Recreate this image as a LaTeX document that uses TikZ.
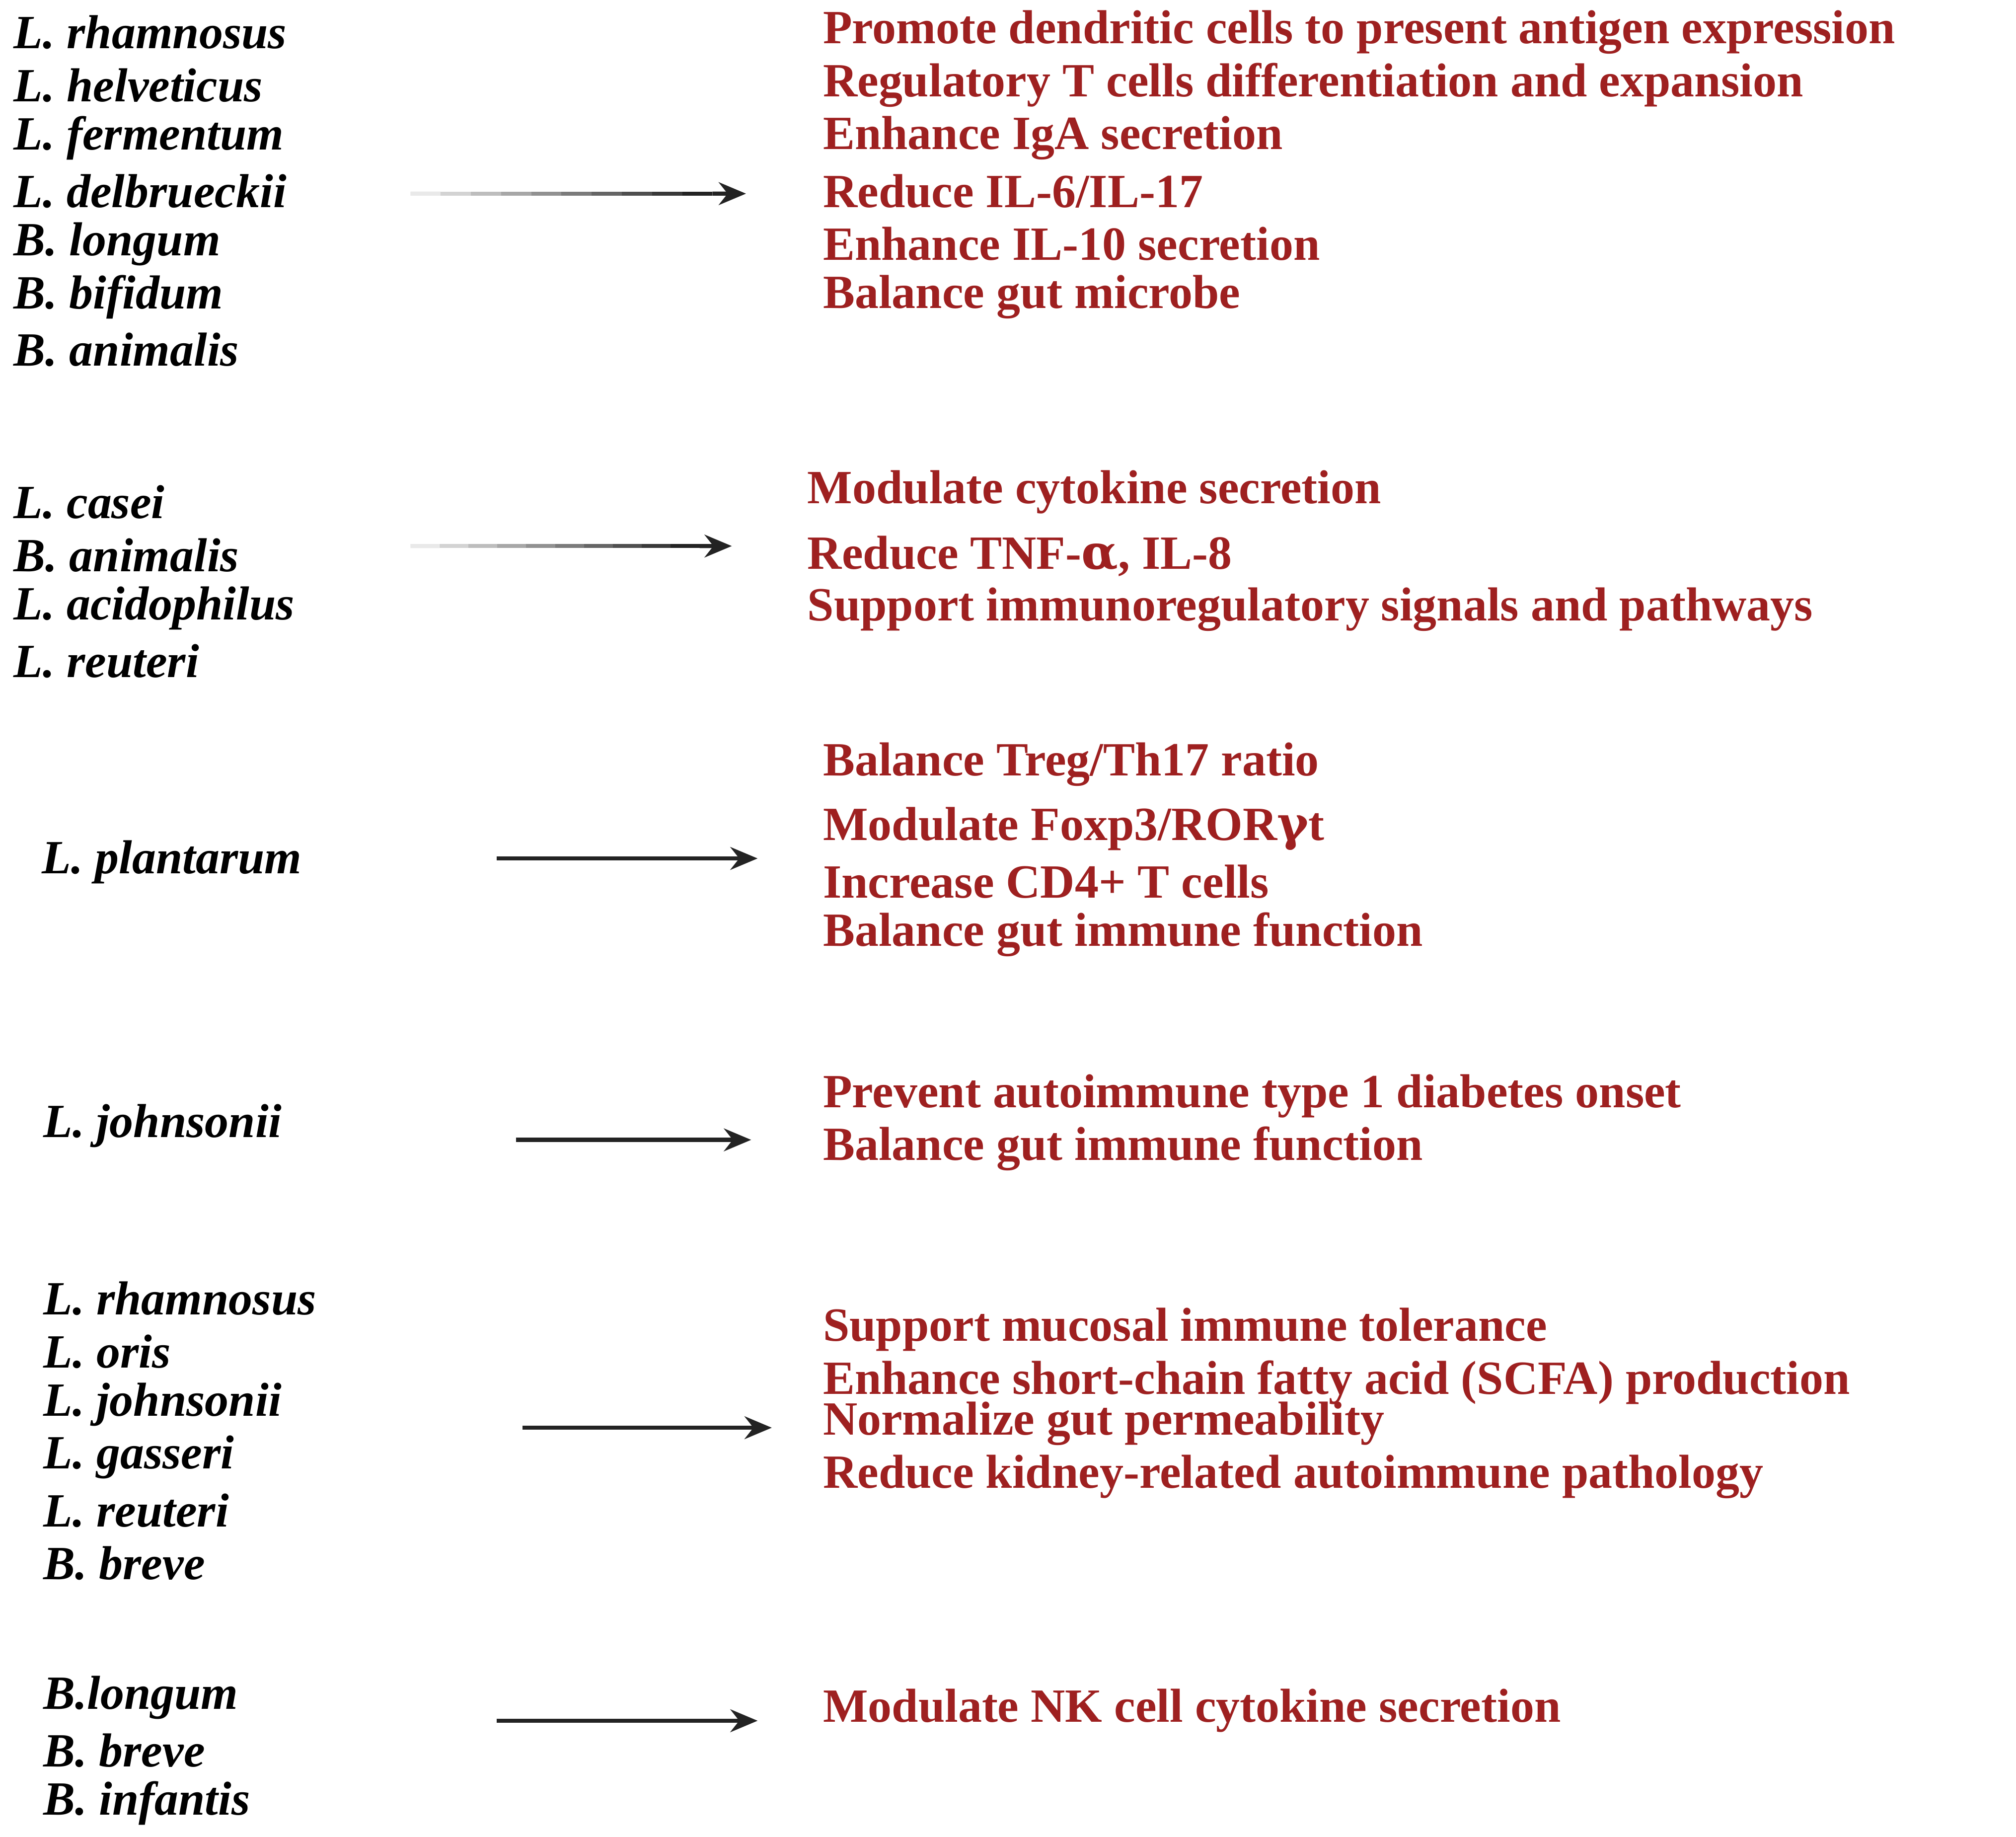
\documentclass[tikz,border=0pt]{standalone}
\usepackage{fontspec}
\setmainfont{Liberation Serif}
\newfontfamily\symf{DejaVu Serif}[BoldFont={DejaVu Serif Bold}]
\usetikzlibrary{arrows.meta,calc}
\definecolor{dred}{RGB}{158,32,32}
\definecolor{arr}{RGB}{35,35,35}
\tikzset{
  sp/.style={anchor=west,inner sep=0pt,font=\fontsize{10.5}{12}\selectfont\bfseries\itshape,text=black},
  ef/.style={anchor=west,inner sep=0pt,font=\fontsize{10.5}{12}\selectfont\bfseries,text=dred},
  ar/.style={draw=arr,line width=0.9pt,-{Stealth[length=6pt,width=5pt]}}
}
\begin{document}
\begin{tikzpicture}[x=0.01cm,y=-0.01cm]
\useasboundingbox (0,0) rectangle (1562,1423);
% group 1
\foreach \t/\y [count=\i] in {L. rhamnosus/25,L. helveticus/66,L. fermentum/107,L. delbrueckii/148,B. longum/189,B. bifidum/230,B. animalis/271}
  \node[sp] (a\i) at (10,\y) {\t};
\node[ef] (b1) at (637,25) {Promote dendritic cells to present antigen expression};
\node[ef] (b2) at (637,66) {Regulatory T cells differentiation and expansion};
\node[ef] (b3) at (637,107) {Enhance IgA secretion};
\node[ef] (b4) at (637,148) {Reduce IL-6/IL-17};
\node[ef] (b5) at (637,189) {Enhance IL-10 secretion};
\node[ef] (b6) at (637,230) {Balance gut microbe};
\coordinate (s1) at (318,150); \coordinate (e1) at (578,150);
\foreach \k [evaluate=\k as \pa using \k*0.09, evaluate=\k as \pb using (\k+1)*0.09, evaluate=\k as \op using 0.1+0.1*\k] in {0,...,9}
  \draw[draw=arr,line width=0.9pt,draw opacity=\op] ($(s1)!\pa!(e1)$) -- ($(s1)!\pb!(e1)$);
\draw[ar] ($(s1)!0.9!(e1)$) -- (e1);
% group 2
\foreach \t/\y [count=\i] in {L. casei/389,B. animalis/430,L. acidophilus/471,L. reuteri/512}
  \node[sp] (c\i) at (10,\y) {\t};
\node[ef] (d1) at (625,381) {Modulate cytokine secretion};
\node[ef] (d2) at (625,431) {Reduce TNF-{\symf\bfseries α}, IL-8};
\node[ef] (d3) at (625,472) {Support immunoregulatory signals and pathways};
\coordinate (s2) at (318,423); \coordinate (e2) at (567,423);
\foreach \k [evaluate=\k as \pa using \k*0.09, evaluate=\k as \pb using (\k+1)*0.09, evaluate=\k as \op using 0.1+0.1*\k] in {0,...,9}
  \draw[draw=arr,line width=0.9pt,draw opacity=\op] ($(s2)!\pa!(e2)$) -- ($(s2)!\pb!(e2)$);
\draw[ar] ($(s2)!0.9!(e2)$) -- (e2);
% group 3
\node[sp] (p1) at (32,668) {L. plantarum};
\node[ef] (q1) at (637,592) {Balance Treg/Th17 ratio};
\node[ef] (q2) at (637,642) {Modulate Foxp3/ROR{\symf\bfseries γ}t};
\node[ef] (q3) at (637,683) {Increase CD4+ T cells};
\node[ef] (q4) at (637,724) {Balance gut immune function};
\coordinate (s3) at (385,665); \coordinate (e3) at (587,665);
\draw[ar] (s3) -- (e3);
% group 4
\node[sp] (j1) at (33,872) {L. johnsonii};
\node[ef] (k1) at (637,849) {Prevent autoimmune type 1 diabetes onset};
\node[ef] (k2) at (637,890) {Balance gut immune function};
\coordinate (s4) at (400,883); \coordinate (e4) at (582,883);
\draw[ar] (s4) -- (e4);
% group 5
\foreach \t/\y [count=\i] in {L. rhamnosus/1006,L. oris/1047,L. johnsonii/1088,L. gasseri/1129,L. reuteri/1170,B. breve/1211}
  \node[sp] (m\i) at (33,\y) {\t};
\node[ef] (n1) at (637,1030) {Support mucosal immune tolerance};
\node[ef] (n2) at (637,1071) {Enhance short-chain fatty acid (SCFA) production};
\node[ef] (n3) at (637,1103) {Normalize gut permeability};
\node[ef] (n4) at (637,1144) {Reduce kidney-related autoimmune pathology};
\coordinate (s5) at (405,1106); \coordinate (e5) at (598,1106);
\draw[ar] (s5) -- (e5);
% group 6
\foreach \t/\y [count=\i] in {B.longum/1315,B. breve/1356,B. infantis/1397}
  \node[sp] (u\i) at (33,\y) {\t};
\node[ef] (v1) at (637,1325) {Modulate NK cell cytokine secretion};
\coordinate (s6) at (385,1333); \coordinate (e6) at (587,1333);
\draw[ar] (s6) -- (e6);
\end{tikzpicture}
\end{document}
